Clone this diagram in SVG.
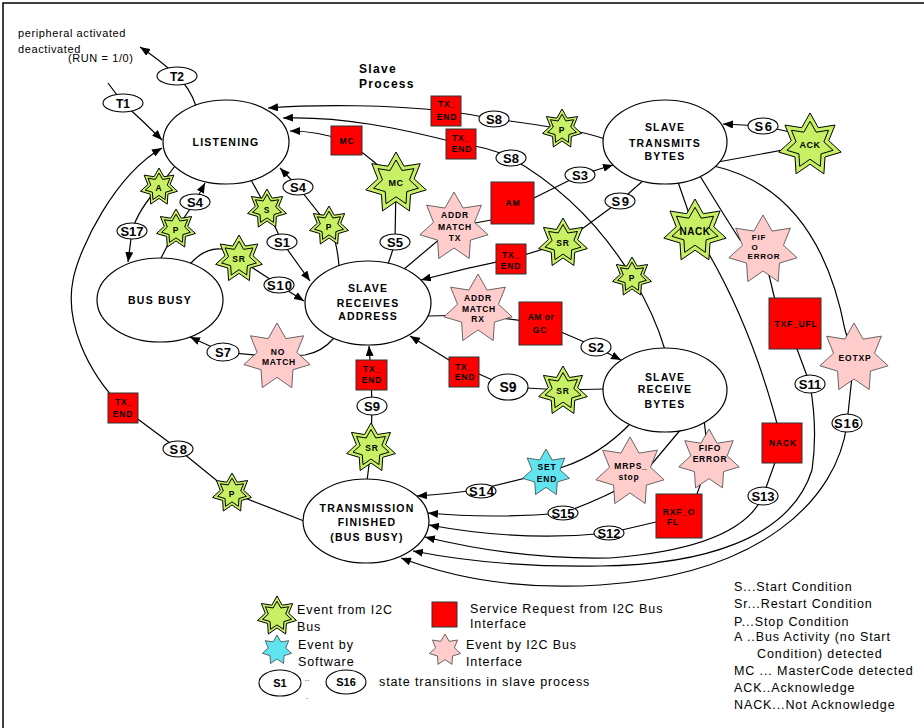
<svg xmlns="http://www.w3.org/2000/svg" width="924" height="728" viewBox="0 0 924 728">
<defs>
<style>
text{font-family:"Liberation Sans",Arial,sans-serif;fill:#000}
.ln{fill:none;stroke:#000;stroke-width:1.2}
.ar{marker-end:url(#ah)}
.state{fill:#fff;stroke:#000;stroke-width:1.2}
.lbl{fill:#fff;stroke:#000;stroke-width:1.1}
.g{fill:#c8f064;stroke:#000;stroke-width:1}
.gi{fill:none;stroke:#000;stroke-width:1}
.pk{fill:#ffcccc;stroke:#444;stroke-width:0.8}
.cy{fill:#5fe4f0;stroke:#444;stroke-width:0.8}
.rd{fill:#ff0000;stroke:#333;stroke-width:1}
.ts{font-size:10.5px;font-weight:bold;letter-spacing:1.2px;text-anchor:middle}
.tl{font-size:13px;font-weight:bold;text-anchor:middle}
.tb{font-size:11px;font-weight:bold;text-anchor:middle}
.te{font-size:8.5px;font-weight:bold;text-anchor:middle;letter-spacing:0.8px}
.tm{font-size:9px;font-weight:bold;text-anchor:middle;letter-spacing:0.5px}
.tn{font-size:12.5px;letter-spacing:0.9px}
.tt{font-size:11px;letter-spacing:0.6px}
</style>
<marker id="ah" viewBox="0 0 10 8" refX="10" refY="4" markerWidth="10" markerHeight="8" markerUnits="userSpaceOnUse" orient="auto"><path d="M0,0 L10,4 L0,8 Z" fill="#000"/></marker>
<path id="s7" vector-effect="non-scaling-stroke" d="M0,-100 L26,-54.1 L78.2,-62.4 L58.5,-13.4 L97.5,22.3 L46.9,37.4 L43.4,90.1 L0,60 L-43.4,90.1 L-46.9,37.4 L-97.5,22.3 L-58.5,-13.4 L-78.2,-62.4 L-26,-54.1 Z"/>
</defs>
<rect width="924" height="728" fill="#fff"/>
<path d="M3,728 V3 H924" fill="none" stroke="#000" stroke-width="1.5"/>

<g id="title-texts">
<text class="tt" x="18" y="37">peripheral activated</text>
<text class="tt" x="18" y="53">deactivated</text>
<text class="tt" x="68" y="62">(RUN = 1/0)</text>
<text x="359" y="73" style="font-size:12px;font-weight:bold;letter-spacing:1.3px">Slave</text>
<text x="359" y="88" style="font-size:12px;font-weight:bold;letter-spacing:1.3px">Process</text>
</g>

<g id="connectors">
<path class="ln ar" d="M108,83 L123,103 Q143,121 162,140"/>
<path class="ln ar" d="M196,106 Q190,88 177,76 Q160,60 140,47"/>
<path class="ln ar" d="M608,140 Q585,132 562,129 Q528,123 494,119 Q470,114 446,111 C390,105 320,104 268,108"/>
<path class="ln ar" d="M665,350 Q655,315 632,277 Q585,200 511,158 Q490,147 461,144 C400,128 340,116 283,118"/>
<path class="ln ar" d="M388,264 Q393,250 395,242 L396,183 Q375,160 346,141 Q318,131 290,131"/>
<path class="ln ar" d="M339,266 Q337,240 329,226 L298,187 L280,168"/>
<path class="ln ar" d="M250,178 L267,209 L282,242 L310,281"/>
<path class="ln ar" d="M160,260 L176,229 L195,202 L205,183"/>
<path class="ln ar" d="M175,166 L159,187 Q138,210 132,231 L128,262"/>
<path class="ln ar" d="M190,264 Q205,247 222,249 L239,259 L279,285 L304,301"/>
<path class="ln ar" d="M334,338 Q322,352 305,355 L277,357 L223,352 L190,337"/>
<path class="ln ar" d="M304,521 L232,493 L178,449 L123,408 C85,370 65,320 73,280 C79,248 115,175 162,148"/>
<path class="ln ar" d="M403,270 L454,227 L491,220 L534,198 L580,175 L613,165"/>
<path class="ln ar" d="M645,179 L620,201 L563,243 L511,259 Q466,268 421,280"/>
<path class="ln ar" d="M427,316 L478,315 L540,323 L596,347 L621,360"/>
<path class="ln ar" d="M604,389 L563,390 L508,387 L479,374 L449,360 L410,336"/>
<path class="ln ar" d="M367,481 L371,449 L372,406 L371,375 L369,346"/>
<path class="ln ar" d="M631,423 Q600,455 563,467 L546,473 L481,489 Q450,494 417,496"/>
<path class="ln ar" d="M682,428 L640,478 Q600,500 563,513 Q490,519 428,513"/>
<path class="ln ar" d="M704,420 L709,460 L697,494 L679,516 L656,522 L609,533 Q520,542 429,525"/>
<path class="ln ar" d="M678,182 L695,231 Q752,320 782,443 L763,496 Q740,548 610,558 Q520,560 425,537"/>
<path class="ln ar" d="M700,176 Q722,212 740,240 L763,250 L775,300 L797,349 L810,384 Q818,430 812,470 C790,540 700,565 600,566 Q500,568 413,551"/>
<path class="ln ar" d="M714,166 C775,180 825,225 845,330 L854,358 L847,423 C838,500 760,575 600,585 Q490,592 401,558"/>
<path class="ln ar" d="M790,132 L763,126 L723,124"/>
<path class="ln" d="M718,162 L810,145"/>
</g>

<g id="listening"><ellipse class="state" cx="226" cy="142" rx="63" ry="42"/><text class="ts" x="226" y="146">LISTENING</text></g>
<g id="slave-transmits-bytes"><ellipse class="state" cx="665" cy="142" rx="62" ry="42"/><text class="ts" x="665" y="131">SLAVE</text><text class="ts" x="665" y="147">TRANSMITS</text><text class="ts" x="665" y="160">BYTES</text></g>
<g id="bus-busy"><ellipse class="state" cx="160" cy="300" rx="63" ry="42"/><text class="ts" x="160" y="304">BUS BUSY</text></g>
<g id="slave-receives-address"><ellipse class="state" cx="368" cy="303" rx="63" ry="42"/><text class="ts" x="368" y="292">SLAVE</text><text class="ts" x="368" y="307">RECEIVES</text><text class="ts" x="368" y="320">ADDRESS</text></g>
<g id="slave-receive-bytes"><ellipse class="state" cx="665" cy="390" rx="62" ry="42"/><text class="ts" x="665" y="381">SLAVE</text><text class="ts" x="665" y="393">RECEIVE</text><text class="ts" x="665" y="408">BYTES</text></g>
<g id="transmission-finished"><ellipse class="state" cx="366" cy="521" rx="63" ry="42"/><text class="ts" x="367" y="512">TRANSMISSION</text><text class="ts" x="367" y="526">FINISHED</text><text class="ts" x="367" y="541">(BUS BUSY)</text></g>

<g id="t1"><ellipse class="lbl" cx="123" cy="103" rx="20" ry="9"/><text class="tl" x="123" y="108" style="font-size:12px">T1</text></g>
<g id="t2"><ellipse class="lbl" cx="177" cy="76" rx="20" ry="9"/><text class="tl" x="177" y="81" style="font-size:12px">T2</text></g>
<g id="s8a"><ellipse class="lbl" cx="494" cy="119" rx="15" ry="8"/><text class="tl" x="494" y="124">S8</text></g>
<g id="s8b"><ellipse class="lbl" cx="511" cy="158" rx="15" ry="8"/><text class="tl" x="511" y="163">S8</text></g>
<g id="s6"><ellipse class="lbl" cx="763" cy="126" rx="15" ry="8"/><text class="tl" x="764" y="131" style="letter-spacing:1.5px">S6</text></g>
<g id="s3"><ellipse class="lbl" cx="580" cy="175" rx="15" ry="8"/><text class="tl" x="580" y="180">S3</text></g>
<g id="s9a"><ellipse class="lbl" cx="620" cy="201" rx="15" ry="8"/><text class="tl" x="621" y="206" style="letter-spacing:1.5px">S9</text></g>
<g id="s4a"><ellipse class="lbl" cx="298" cy="187" rx="15" ry="8"/><text class="tl" x="298" y="192">S4</text></g>
<g id="s4b"><ellipse class="lbl" cx="195" cy="202" rx="15" ry="8"/><text class="tl" x="195" y="207">S4</text></g>
<g id="s17"><ellipse class="lbl" cx="132" cy="231" rx="15" ry="8"/><text class="tl" x="132" y="236">S17</text></g>
<g id="s1"><ellipse class="lbl" cx="282" cy="242" rx="15" ry="8"/><text class="tl" x="282" y="247">S1</text></g>
<g id="s5"><ellipse class="lbl" cx="395" cy="242" rx="15" ry="8"/><text class="tl" x="395" y="247">S5</text></g>
<g id="s10"><ellipse class="lbl" cx="279" cy="285" rx="15" ry="8"/><text class="tl" x="280" y="290" style="letter-spacing:1px">S10</text></g>
<g id="s7"><ellipse class="lbl" cx="223" cy="352" rx="16" ry="9"/><text class="tl" x="223" y="357">S7</text></g>
<g id="s2"><ellipse class="lbl" cx="596" cy="347" rx="15" ry="9"/><text class="tl" x="596" y="352">S2</text></g>
<g id="s9b"><ellipse class="lbl" cx="508" cy="387" rx="20" ry="13"/><text class="tl" x="508" y="392" style="font-size:14px">S9</text></g>
<g id="s9c"><ellipse class="lbl" cx="372" cy="406" rx="15" ry="9"/><text class="tl" x="372" y="411">S9</text></g>
<g id="s11"><ellipse class="lbl" cx="810" cy="384" rx="15" ry="9"/><text class="tl" x="810" y="389">S11</text></g>
<g id="s16"><ellipse class="lbl" cx="847" cy="423" rx="15" ry="9"/><text class="tl" x="847" y="428" style="letter-spacing:1px">S16</text></g>
<g id="s8c"><ellipse class="lbl" cx="178" cy="449" rx="15" ry="8"/><text class="tl" x="179" y="454" style="letter-spacing:1.5px">S8</text></g>
<g id="s14"><ellipse class="lbl" cx="481" cy="491" rx="15" ry="7"/><text class="tl" x="482" y="496" style="letter-spacing:1px">S14</text></g>
<g id="s15"><ellipse class="lbl" cx="563" cy="513" rx="15" ry="7"/><text class="tl" x="563" y="518">S15</text></g>
<g id="s12"><ellipse class="lbl" cx="609" cy="533" rx="15" ry="7"/><text class="tl" x="609" y="538">S12</text></g>
<g id="s13"><ellipse class="lbl" cx="763" cy="496" rx="15" ry="9"/><text class="tl" x="763" y="501">S13</text></g>

<g id="ev-a"><use href="#s7" class="g" transform="translate(159,187) scale(0.19)"/><use href="#s7" class="gi" transform="translate(159,187) scale(0.14)"/><text class="te" x="159" y="191">A</text></g>
<g id="ev-p1"><use href="#s7" class="g" transform="translate(176,229) scale(0.2)"/><use href="#s7" class="gi" transform="translate(176,229) scale(0.148)"/><text class="te" x="176" y="233">P</text></g>
<g id="ev-s"><use href="#s7" class="g" transform="translate(267,209) scale(0.2)"/><use href="#s7" class="gi" transform="translate(267,209) scale(0.148)"/><text class="te" x="267" y="213">S</text></g>
<g id="ev-p2"><use href="#s7" class="g" transform="translate(329,226) scale(0.2)"/><use href="#s7" class="gi" transform="translate(329,226) scale(0.148)"/><text class="te" x="329" y="230">P</text></g>
<g id="ev-mc"><use href="#s7" class="g" transform="translate(396,183) scale(0.31)"/><use href="#s7" class="gi" transform="translate(396,183) scale(0.23)"/><text class="tm" x="396" y="186">MC</text></g>
<g id="ev-sr1"><use href="#s7" class="g" transform="translate(239,259) scale(0.24)"/><use href="#s7" class="gi" transform="translate(239,259) scale(0.178)"/><text class="te" x="239" y="262">SR</text></g>
<g id="ev-p3"><use href="#s7" class="g" transform="translate(562,129) scale(0.2)"/><use href="#s7" class="gi" transform="translate(562,129) scale(0.148)"/><text class="te" x="562" y="133">P</text></g>
<g id="ev-ack"><use href="#s7" class="g" transform="translate(810,145) scale(0.32)"/><use href="#s7" class="gi" transform="translate(810,145) scale(0.237)"/><text class="tm" x="810" y="148">ACK</text></g>
<g id="ev-nack"><use href="#s7" class="g" transform="translate(695,231) scale(0.32)"/><use href="#s7" class="gi" transform="translate(695,231) scale(0.237)"/><text class="tm" x="695" y="235" style="font-size:10px">NACK</text></g>
<g id="ev-sr2"><use href="#s7" class="g" transform="translate(563,243) scale(0.25)"/><use href="#s7" class="gi" transform="translate(563,243) scale(0.185)"/><text class="te" x="563" y="246">SR</text></g>
<g id="ev-p4"><use href="#s7" class="g" transform="translate(632,277) scale(0.2)"/><use href="#s7" class="gi" transform="translate(632,277) scale(0.148)"/><text class="te" x="632" y="281">P</text></g>
<g id="ev-sr3"><use href="#s7" class="g" transform="translate(563,391) scale(0.25)"/><use href="#s7" class="gi" transform="translate(563,391) scale(0.185)"/><text class="te" x="563" y="394">SR</text></g>
<g id="ev-sr4"><use href="#s7" class="g" transform="translate(371,448) scale(0.25)"/><use href="#s7" class="gi" transform="translate(371,448) scale(0.185)"/><text class="te" x="372" y="451">SR</text></g>
<g id="ev-p5"><use href="#s7" class="g" transform="translate(232,493) scale(0.2)"/><use href="#s7" class="gi" transform="translate(232,493) scale(0.148)"/><text class="te" x="232" y="497">P</text></g>

<g id="ev-addr-tx"><use href="#s7" class="pk" transform="translate(454,227) scale(0.35)"/><text class="te" x="455" y="218">ADDR</text><text class="te" x="455" y="230">MATCH</text><text class="te" x="455" y="241">TX</text></g>
<g id="ev-addr-rx"><use href="#s7" class="pk" transform="translate(478,309) scale(0.35)"/><text class="te" x="478" y="301">ADDR</text><text class="te" x="479" y="312">MATCH</text><text class="te" x="478" y="322">RX</text></g>
<g id="ev-nomatch"><use href="#s7" class="pk" transform="translate(277,357) scale(0.34)"/><text class="te" x="278" y="355">NO</text><text class="te" x="279" y="365">MATCH</text></g>
<g id="ev-fifo-tx"><use href="#s7" class="pk" transform="translate(763,250) scale(0.35)"/><text class="te" x="759" y="240" style="font-size:8px">FIF</text><text class="te" x="755" y="250" style="font-size:8px">O</text><text class="te" x="764" y="259" style="font-size:8px">ERROR</text></g>
<g id="ev-eotxp"><use href="#s7" class="pk" transform="translate(854,358) scale(0.35)"/><text class="te" x="855" y="361">EOTXP</text></g>
<g id="ev-mrps"><use href="#s7" class="pk" transform="translate(630,472) scale(0.35)"/><text class="te" x="631" y="469">MRPS_</text><text class="te" x="629" y="480">stop</text></g>
<g id="ev-fifo-rx"><use href="#s7" class="pk" transform="translate(709,460) scale(0.31)"/><text class="te" x="710" y="451">FIFO</text><text class="te" x="710" y="462">ERROR</text></g>
<g id="ev-setend"><use href="#s7" class="cy" transform="translate(546,473) scale(0.24)"/><text class="te" x="547" y="470">SET</text><text class="te" x="547" y="482">END</text></g>

<g id="sr-txend1"><rect class="rd" x="431" y="96" width="30" height="30"/><text class="te" x="447" y="107">TX_</text><text class="te" x="447" y="120">END</text></g>
<g id="sr-txend2"><rect class="rd" x="446" y="129" width="30" height="30"/><text class="te" x="461" y="141">TX_</text><text class="te" x="462" y="152">END</text></g>
<g id="sr-mc"><rect class="rd" x="331" y="126" width="31" height="29"/><text class="te" x="347" y="144">MC</text></g>
<g id="sr-am"><rect class="rd" x="491" y="182" width="43" height="42"/><text class="te" x="513" y="206">AM</text></g>
<g id="sr-txend3"><rect class="rd" x="496" y="244" width="30" height="30"/><text class="te" x="511" y="258">TX_</text><text class="te" x="511" y="269">END</text></g>
<g id="sr-amgc"><rect class="rd" x="519" y="302" width="43" height="43"/><text class="te" x="541" y="320" style="letter-spacing:0.5px">AM or</text><text class="te" x="540" y="333">GC</text></g>
<g id="sr-txend4"><rect class="rd" x="449" y="357" width="30" height="30"/><text class="te" x="464" y="370">TX_</text><text class="te" x="465" y="380">END</text></g>
<g id="sr-txend5"><rect class="rd" x="356" y="360" width="31" height="30"/><text class="te" x="372" y="372">TX_</text><text class="te" x="372" y="383">END</text></g>
<g id="sr-txend6"><rect class="rd" x="108" y="393" width="30" height="30"/><text class="te" x="124" y="405">TX_</text><text class="te" x="123" y="417">END</text></g>
<g id="sr-txfufl"><rect class="rd" x="769" y="298" width="52" height="51"/><text class="te" x="796" y="327">TXF_UFL</text></g>
<g id="sr-nack"><rect class="rd" x="762" y="423" width="40" height="40"/><text class="te" x="783" y="446">NACK</text></g>
<g id="sr-rxfofl"><rect class="rd" x="656" y="494" width="46" height="44"/><text class="te" x="679" y="515">RXF_O</text><text class="te" x="673" y="525">FL</text></g>

<g id="legend">
<use href="#s7" class="g" transform="translate(277,616) scale(0.2)"/><use href="#s7" class="gi" transform="translate(277,616) scale(0.148)"/>
<text class="tn" x="297" y="614">Event from I2C</text><text class="tn" x="297" y="631">Bus</text>
<use href="#s7" class="cy" transform="translate(277,650) scale(0.15)"/>
<text class="tn" x="298" y="649">Event by</text><text class="tn" x="298" y="666">Software</text>
<ellipse class="lbl" cx="280" cy="683" rx="21" ry="13"/><text class="tb" x="280" y="687">S1</text>
<text x="307" y="681" style="font-size:8px;text-anchor:middle">..</text><text x="307" y="699" style="font-size:8px;text-anchor:middle">.</text>
<ellipse class="lbl" cx="346" cy="682" rx="20" ry="12"/><text class="tb" x="346" y="686">S16</text>
<text class="tn" x="379" y="686">state transitions in slave process</text>
<rect class="rd" x="432" y="602" width="25" height="25"/>
<text class="tn" x="470" y="613">Service Request from I2C Bus</text><text class="tn" x="470" y="628">Interface</text>
<use href="#s7" class="pk" transform="translate(445,650) scale(0.16)"/>
<text class="tn" x="466" y="649">Event by I2C Bus</text><text class="tn" x="466" y="666">Interface</text>
<text class="tn" x="734" y="591">S...Start Condition</text>
<text class="tn" x="734" y="608">Sr...Restart Condition</text>
<text class="tn" x="734" y="626">P...Stop Condition</text>
<text class="tn" x="734" y="641">A ..Bus Activity (no Start</text>
<text class="tn" x="757" y="658">Condition) detected</text>
<text class="tn" x="734" y="675">MC ... MasterCode detected</text>
<text class="tn" x="734" y="692">ACK..Acknowledge</text>
<text class="tn" x="734" y="709">NACK...Not Acknowledge</text>
</g>
</svg>
